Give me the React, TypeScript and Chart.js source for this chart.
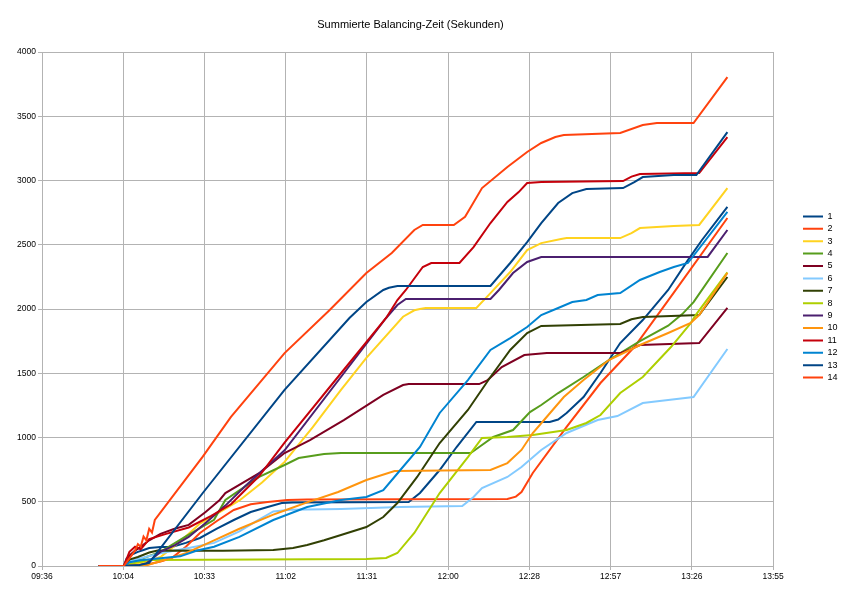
import { useEffect, useRef } from "react"
import { Chart, registerables } from "chart.js"

Chart.register(...registerables)

const chartTitle = "Summierte Balancing-Zeit (Sekunden)"

// x axis: clock time, 09:36 .. 13:55 in steps of 0.02 day (28.8 min)
const xTickLabels = ["09:36", "10:04", "10:33", "11:02", "11:31", "12:00", "12:28", "12:57", "13:26", "13:55"]
const xStartMinutes = 576
const xStepMinutes = 28.8
const yMax = 4000
const yStep = 500

const seriesNames = ["1", "2", "3", "4", "5", "6", "7", "8", "9", "10", "11", "12", "13", "14"]
const seriesColors = [
  "#004586", "#ff420e", "#ffd320", "#579d1c", "#7e0021", "#83caff", "#314004",
  "#aecf00", "#4b1f6f", "#ff950e", "#c5000b", "#0084d1", "#004586", "#ff420e",
]

type Pt = [string, number]

const series1: Pt[] = [
  ["9:56", 0], ["10:05", 0], ["10:06", 60], ["10:08", 90], ["10:10", 110], ["10:12", 125], ["10:14", 140],
  ["10:18", 148], ["10:22", 148], ["10:27", 180], ["10:32", 218], ["10:38", 290], ["10:44", 358],
  ["10:50", 420], ["10:56", 459], ["11:01", 490], ["11:05", 495], ["11:46", 498], ["11:50", 568],
  ["11:57", 747], ["12:03", 926], ["12:10", 1121], ["12:36", 1121], ["12:39", 1140], ["12:42", 1191],
  ["12:48", 1315], ["12:54", 1502], ["13:01", 1735], ["13:09", 1914], ["13:18", 2148], ["13:25", 2380],
  ["13:30", 2537], ["13:39", 2794],
]
const series2: Pt[] = [
  ["9:56", 0], ["10:05", 0], ["10:10", 3], ["10:13", 10], ["10:18", 35], ["10:22", 62], ["10:27", 150],
  ["10:32", 257], ["10:38", 350], ["10:44", 436], ["10:50", 480], ["10:56", 498], ["11:03", 514],
  ["11:10", 518], ["12:21", 521], ["12:24", 540], ["12:26", 576], ["12:30", 724], ["12:42", 1082],
  ["12:54", 1424], ["13:06", 1704], ["13:20", 2128], ["13:39", 2708],
]
const series3: Pt[] = [
  ["9:56", 0], ["10:05", 0], ["10:08", 15], ["10:11", 25], ["10:14", 40], ["10:18", 70], ["10:25", 190],
  ["10:32", 330], ["10:39", 420], ["10:46", 510], ["10:54", 650], ["11:02", 810], ["11:12", 1080],
  ["11:22", 1370], ["11:31", 1620], ["11:44", 1940], ["11:48", 1990], ["11:50", 2000], ["11:52", 2008],
  ["12:10", 2008], ["12:15", 2124], ["12:22", 2288], ["12:28", 2459], ["12:33", 2513], ["12:40", 2545],
  ["12:42", 2552], ["13:01", 2552], ["13:05", 2590], ["13:08", 2630], ["13:20", 2646], ["13:29", 2654],
  ["13:39", 2941],
]
const series4: Pt[] = [
  ["9:56", 0], ["10:05", 0], ["10:07", 30], ["10:09", 40], ["10:13", 70], ["10:18", 110], ["10:27", 230],
  ["10:37", 360], ["10:41", 514], ["10:53", 693], ["11:02", 786], ["11:07", 840], ["11:16", 872],
  ["11:22", 879], ["12:08", 879], ["12:11", 926], ["12:16", 1004], ["12:23", 1058], ["12:29", 1198],
  ["12:33", 1253], ["12:39", 1346], ["12:48", 1471], ["12:57", 1603], ["13:08", 1750], ["13:18", 1870],
  ["13:23", 1960], ["13:27", 2054], ["13:39", 2436],
]
const series5: Pt[] = [
  ["9:56", 0], ["10:05", 0], ["10:07", 80], ["10:09", 120], ["10:11", 150], ["10:14", 200], ["10:18", 250],
  ["10:23", 290], ["10:28", 320], ["10:34", 420], ["10:39", 514], ["10:41", 567], ["10:53", 722],
  ["11:02", 879], ["11:11", 980], ["11:23", 1136], ["11:37", 1331], ["11:44", 1408], ["11:46", 1416],
  ["12:11", 1416], ["12:14", 1447], ["12:19", 1548], ["12:27", 1642], ["12:35", 1657], ["13:01", 1657],
  ["13:05", 1690], ["13:08", 1720], ["13:29", 1735], ["13:39", 2008],
]
const series6: Pt[] = [
  ["9:56", 0], ["10:05", 0], ["10:07", 40], ["10:11", 60], ["10:18", 100], ["10:28", 140], ["10:37", 180],
  ["10:46", 270], ["10:52", 350], ["10:58", 425], ["11:04", 438], ["11:10", 440], ["11:22", 444],
  ["11:43", 459], ["12:05", 467], ["12:09", 537], ["12:12", 607], ["12:21", 693], ["12:26", 770],
  ["12:33", 903], ["12:42", 1035], ["12:53", 1136], ["13:00", 1167], ["13:09", 1268], ["13:18", 1292],
  ["13:27", 1315], ["13:39", 1689],
]
const series7: Pt[] = [
  ["9:56", 0], ["10:05", 0], ["10:07", 50], ["10:10", 70], ["10:14", 105], ["10:17", 120], ["10:40", 118],
  ["10:58", 125], ["11:05", 140], ["11:10", 163], ["11:16", 200], ["11:22", 241], ["11:31", 303],
  ["11:37", 381], ["11:42", 490], ["11:49", 693], ["11:57", 957], ["12:07", 1214], ["12:15", 1471],
  ["12:22", 1681], ["12:28", 1813], ["12:33", 1868], ["13:01", 1883], ["13:05", 1920], ["13:09", 1938],
  ["13:29", 1953], ["13:39", 2249],
]
const series8: Pt[] = [
  ["9:56", 0], ["10:05", 0], ["10:08", 20], ["10:10", 30], ["10:14", 47], ["11:31", 54], ["11:38", 62],
  ["11:42", 101], ["11:48", 257], ["11:57", 568], ["12:07", 848], ["12:12", 996], ["12:21", 1004],
  ["12:30", 1019], ["12:42", 1058], ["12:49", 1113], ["12:54", 1175], ["13:01", 1346], ["13:09", 1471],
  ["13:19", 1704], ["13:26", 1890], ["13:28", 1960], ["13:39", 2285],
]
const series9: Pt[] = [
  ["9:56", 0], ["10:05", 0], ["10:11", 10], ["10:13", 20], ["10:18", 110], ["10:23", 160], ["10:28", 226],
  ["10:34", 335], ["10:41", 470], ["10:48", 620], ["11:02", 900], ["11:23", 1500], ["11:38", 1930],
  ["11:42", 2031], ["11:45", 2078], ["12:15", 2078], ["12:18", 2148], ["12:23", 2280], ["12:28", 2366],
  ["12:33", 2405], ["13:32", 2405], ["13:39", 2615],
]
const series10: Pt[] = [
  ["9:56", 0], ["10:05", 0], ["10:10", 3], ["10:13", 5], ["10:20", 50], ["10:27", 100], ["10:37", 200],
  ["10:46", 290], ["10:58", 400], ["11:03", 440], ["11:10", 495], ["11:21", 576], ["11:31", 669],
  ["11:41", 739], ["12:15", 747], ["12:21", 801], ["12:26", 903], ["12:30", 1035], ["12:34", 1136],
  ["12:41", 1315], ["12:48", 1447], ["12:57", 1603], ["13:08", 1720], ["13:18", 1813], ["13:26", 1891],
  ["13:29", 1953], ["13:39", 2280],
]
const series11: Pt[] = [
  ["9:56", 0], ["10:05", 0], ["10:07", 110], ["10:09", 150], ["10:11", 130], ["10:14", 210], ["10:20", 250],
  ["10:28", 300], ["10:36", 390], ["10:43", 480], ["10:53", 700], ["11:02", 960], ["11:22", 1500],
  ["11:38", 1930], ["11:42", 2070], ["11:45", 2148], ["11:51", 2327], ["11:54", 2358], ["12:04", 2358],
  ["12:09", 2482], ["12:15", 2669], ["12:21", 2833], ["12:25", 2910], ["12:28", 2980], ["12:33", 2988],
  ["13:02", 2996], ["13:05", 3030], ["13:08", 3050], ["13:29", 3058], ["13:39", 3338],
]
const series12: Pt[] = [
  ["9:56", 0], ["10:05", 0], ["10:07", 30], ["10:11", 45], ["10:18", 60], ["10:25", 75], ["10:31", 120],
  ["10:37", 150], ["10:46", 226], ["10:58", 358], ["11:10", 459], ["11:22", 514], ["11:31", 537],
  ["11:37", 590], ["11:42", 720], ["11:50", 926], ["11:57", 1191], ["12:07", 1447], ["12:15", 1681],
  ["12:22", 1774], ["12:28", 1860], ["12:33", 1953], ["12:39", 2008], ["12:44", 2054], ["12:49", 2070],
  ["12:53", 2109], ["13:01", 2124], ["13:08", 2226], ["13:15", 2288], ["13:20", 2327], ["13:25", 2358],
  ["13:39", 2755],
]
const series13: Pt[] = [
  ["9:56", 0], ["10:05", 0], ["10:10", 5], ["10:14", 25], ["10:33", 568], ["11:02", 1370],
  ["11:25", 1930], ["11:31", 2054], ["11:37", 2148], ["11:39", 2165], ["11:42", 2179], ["12:15", 2179],
  ["12:22", 2358], ["12:28", 2521], ["12:33", 2669], ["12:39", 2825], ["12:44", 2902], ["12:49", 2934],
  ["13:02", 2941], ["13:06", 2988], ["13:09", 3027], ["13:20", 3043], ["13:28", 3043], ["13:39", 3377],
]
const series14: Pt[] = [
  ["9:56", 0], ["10:05", 0], ["10:07", 60], ["10:09", 120], ["10:10", 170], ["10:11", 150], ["10:12", 230],
  ["10:13", 200], ["10:14", 290], ["10:15", 260], ["10:16", 358], ["10:33", 851], ["10:43", 1160],
  ["11:02", 1657], ["11:18", 1992], ["11:31", 2280], ["11:40", 2436], ["11:48", 2615], ["11:51", 2654],
  ["12:02", 2654], ["12:06", 2718], ["12:12", 2941], ["12:21", 3105], ["12:28", 3222], ["12:33", 3292],
  ["12:38", 3338], ["12:41", 3354], ["13:01", 3370], ["13:09", 3432], ["13:14", 3447], ["13:27", 3447],
  ["13:39", 3805],
]

const allSeries = [
  series1, series2, series3, series4, series5, series6, series7,
  series8, series9, series10, series11, series12, series13, series14,
]

const toMinutes = (t: string) => {
  const [h, m] = t.split(":").map(Number)
  return h * 60 + m
}

const FONT = "'Liberation Sans', Arial, sans-serif"
const GRID = "#b3b3b3"

// push the legend a bit away from the plot, like the original
const legendPlacement = {
  id: "legendPlacement",
  afterLayout(chart: any) {
    const lg = chart.legend
    if (!lg) return
    const dx = 799.6 - lg.left
    lg.left += dx
    lg.right += dx
  },
}

export default function App() {
  const chartRef = useRef<HTMLCanvasElement>(null)
  const chartInstance = useRef<Chart | null>(null)

  useEffect(() => {
    document.body.style.margin = "0"
    if (!chartRef.current) return
    if (chartInstance.current) chartInstance.current.destroy()

    const ctx = chartRef.current.getContext("2d")
    if (!ctx) return

    chartInstance.current = new Chart(ctx, {
      type: "line",
      data: {
        datasets: allSeries.map((s, i) => ({
          label: seriesNames[i],
          data: s.map(([t, v]) => ({ x: toMinutes(t), y: v })),
          borderColor: seriesColors[i],
          backgroundColor: seriesColors[i],
          borderWidth: 2,
          pointRadius: 0,
          tension: 0,
          fill: false,
          order: allSeries.length - i,
        })),
      },
      plugins: [legendPlacement],
      options: {
        animation: false,
        responsive: true,
        maintainAspectRatio: false,
        events: [],
        layout: { padding: { left: 0, right: 21, top: 0, bottom: 0 } },
        plugins: {
          title: {
            display: true,
            text: chartTitle,
            color: "#000",
            font: { family: FONT, size: 11, weight: "normal" },
            padding: { top: 18.4, bottom: 20.4 },
          },
          legend: {
            position: "right",
            reverse: true,
            labels: {
              usePointStyle: true,
              pointStyle: "line",
              pointStyleWidth: 20,
              boxHeight: 9,
              padding: 3.4,
              color: "#000",
              font: { family: FONT, size: 9 },
            },
          },
          tooltip: { enabled: false },
        },
        scales: {
          x: {
            type: "linear",
            min: xStartMinutes,
            max: xStartMinutes + xStepMinutes * (xTickLabels.length - 1),
            afterBuildTicks: (scale: any) => {
              scale.ticks = xTickLabels.map((_, i) => ({ value: xStartMinutes + i * xStepMinutes }))
            },
            afterFit: (scale: any) => {
              scale.height = 28
            },
            ticks: {
              autoSkip: false,
              maxRotation: 0,
              padding: 2,
              color: "#000",
              font: { family: FONT, size: 8.5 },
              callback: (_v: any, i: number) => xTickLabels[i],
            },
            grid: { color: GRID, tickLength: 4 },
            border: { color: GRID },
          },
          y: {
            min: 0,
            max: yMax,
            afterFit: (scale: any) => {
              scale.width = 42
            },
            ticks: {
              stepSize: yStep,
              padding: 2,
              color: "#000",
              font: { family: FONT, size: 8.5 },
              callback: (v: any) => String(v),
            },
            grid: { color: GRID, tickLength: 4 },
            border: { color: GRID },
          },
        },
      },
    })

    return () => {
      if (chartInstance.current) {
        chartInstance.current.destroy()
        chartInstance.current = null
      }
    }
  }, [])

  return (
    <div style={{ position: "absolute", left: 0, top: 0, width: 842, height: 594, background: "#fff" }}>
      <canvas ref={chartRef} />
    </div>
  )
}
